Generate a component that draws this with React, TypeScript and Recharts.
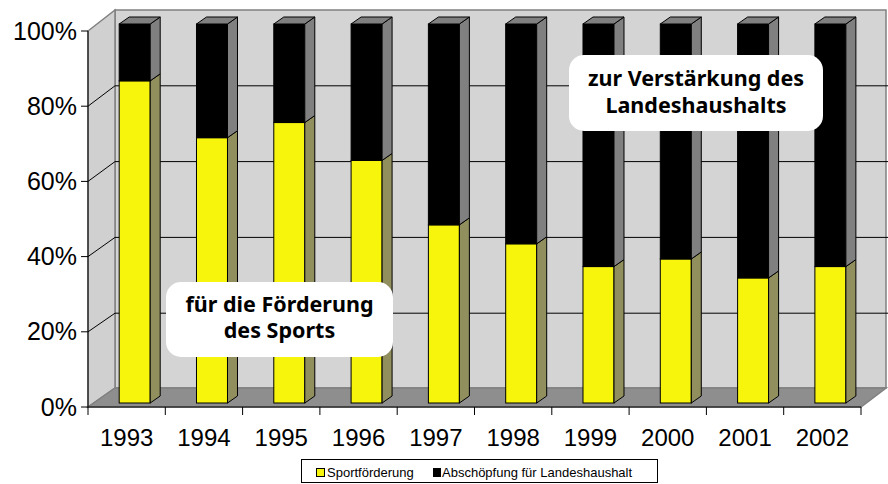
import React from 'react';
import { BarChart, Bar, XAxis, YAxis, CartesianGrid } from 'recharts';

const years = ['1993', '1994', '1995', '1996', '1997', '1998', '1999', '2000', '2001', '2002'];
// share in percent
const sportfoerderung = [85, 70, 74, 64, 47, 42, 36, 38, 33, 36];
const abschoepfung = [15, 30, 26, 36, 53, 58, 64, 62, 67, 64];
const yTicks = [0, 20, 40, 60, 80, 100];

const data = years.map((year, i) => ({
  year,
  sport: sportfoerderung[i],
  absch: abschoepfung[i],
}));

const W = 888;
const H = 484;
const FONT = '"Liberation Sans", Arial, sans-serif';

// plot area = front face plane of the bars
const PLOT_TOP = 24;
const PLOT_BOTTOM = 403;
// front axis plane (slightly in front of / below the bars)
const AXIS_DX = -8;
const AXIS_TOP = 31;
const AXIS_BOTTOM = 407;
const toAxisY = (y: number) =>
  AXIS_TOP + ((y - PLOT_TOP) * (AXIS_BOTTOM - AXIS_TOP)) / (PLOT_BOTTOM - PLOT_TOP);
// back wall plane
const WALL_DX = 19;
const WALL_DY = -14;
// bar depth
const BAR_DX = 10;
const BAR_DY = 7;

const YELLOW = '#f7f50c';
const YELLOW_SIDE = '#918f5e';
const GREY = '#808080';

function make3DBar(front: string, side: string, withTop: boolean) {
  return (props: any) => {
    const { x, y, width, height } = props;
    if (width == null || height == null || height <= 0) return <g />;
    const r = x + width;
    const b = y + height;
    return (
      <g>
        <rect x={x} y={y} width={width} height={height} fill={front} stroke="#000" strokeWidth={1} />
        <polygon
          points={`${r},${y} ${r + BAR_DX},${y - BAR_DY} ${r + BAR_DX},${b - BAR_DY} ${r},${b}`}
          fill={side}
          stroke="#000"
          strokeWidth={1}
          strokeLinejoin="round"
        />
        {withTop && (
          <polygon
            points={`${x},${y} ${x + BAR_DX},${y - BAR_DY} ${r + BAR_DX},${y - BAR_DY} ${r},${y}`}
            fill={GREY}
            stroke="#000"
            strokeWidth={1}
            strokeLinejoin="round"
          />
        )}
      </g>
    );
  };
}

const SportShape = make3DBar(YELLOW, YELLOW_SIDE, false);
const AbschShape = make3DBar('#000000', GREY, true);

const gridLine = (props: any) => {
  const { x1, x2, y1, index } = props;
  const edge =
    props.y != null && props.height != null
      ? Math.abs(y1 - props.y) < 1 || Math.abs(y1 - (props.y + props.height)) < 1
      : false;
  if (edge) return <g key={`grid-${index}`} />;
  const yb = y1 + WALL_DY;
  return (
    <g key={`grid-${index}`}>
      <line x1={x1 + AXIS_DX} y1={toAxisY(y1)} x2={x1 + WALL_DX} y2={yb} stroke="#000" strokeWidth={1} />
      <line x1={x1 + WALL_DX} y1={yb} x2={x2 + WALL_DX} y2={yb} stroke="#000" strokeWidth={1} />
    </g>
  );
};

const YTick = (props: any) => {
  const { x, y, payload } = props;
  const ya = toAxisY(y);
  const xa = x + AXIS_DX;
  return (
    <g>
      <line x1={xa - 7} y1={ya} x2={xa} y2={ya} stroke="#000" strokeWidth={1} />
      <text x={xa - 11} y={ya + 8.5} textAnchor="end" fontSize={25} fontFamily={FONT} fill="#000">
        {`${payload.value}%`}
      </text>
    </g>
  );
};

const XTick = (props: any) => {
  const { x, y, payload, index, visibleTicksCount } = props;
  const half = payload.offset || 0;
  const xa = x + AXIS_DX;
  const ya = toAxisY(y);
  const isLast = index === (visibleTicksCount ?? years.length) - 1;
  return (
    <g>
      <line x1={xa - half} y1={ya} x2={xa - half} y2={ya + 8} stroke="#000" strokeWidth={1} />
      {isLast && <line x1={xa + half} y1={ya} x2={xa + half} y2={ya + 8} stroke="#000" strokeWidth={1} />}
      <text x={xa} y={ya + 39} textAnchor="middle" fontSize={24} fontFamily={FONT} fill="#000">
        {payload.value}
      </text>
    </g>
  );
};

// static 3D frame: left wall, back wall, floor, front axis lines
function Walls() {
  const lx = 88;
  const rx = 861;
  const bx = lx + 27;
  const brx = rx + 25;
  return (
    <svg width={W} height={H} style={{ position: 'absolute', left: 0, top: 0 }}>
      <polygon points={`${bx},10 ${brx},10 ${brx},388 ${bx},388`} fill="#d4d4d4" stroke={GREY} strokeWidth={1.5} />
      <polygon points={`${lx},${AXIS_TOP} ${bx},10 ${bx},388 ${lx},${AXIS_BOTTOM}`} fill="#d0d0d0" stroke={GREY} strokeWidth={1.5} />
      <polygon points={`${lx},${AXIS_BOTTOM} ${bx},388 ${brx},388 ${rx},${AXIS_BOTTOM}`} fill="#8e8e8e" stroke={GREY} strokeWidth={1.5} />
      <line x1={lx} y1={AXIS_TOP} x2={lx} y2={AXIS_BOTTOM} stroke="#000" strokeWidth={1} />
      <line x1={lx} y1={AXIS_BOTTOM} x2={rx} y2={AXIS_BOTTOM} stroke="#000" strokeWidth={1} />
    </svg>
  );
}

function Overlay() {
  const boldFont = '"Noto Sans", "Open Sans", sans-serif';
  return (
    <svg width={W} height={H} style={{ position: 'absolute', left: 0, top: 0, pointerEvents: 'none' }}>
      <rect x={166} y={282} width={227} height={75} rx={15} fill="#fff" />
      <text x={279.5} textAnchor="middle" fontSize={21.5} fontWeight="bold" fontFamily={boldFont} fill="#000">
        <tspan x={279.5} y={312}>für die Förderung</tspan>
        <tspan x={279.5} y={338}>des Sports</tspan>
      </text>
      <rect x={569} y={55} width={254} height={76} rx={15} fill="#fff" />
      <text x={696} textAnchor="middle" fontSize={21.5} fontWeight="bold" fontFamily={boldFont} fill="#000">
        <tspan x={696} y={86}>zur Verstärkung des</tspan>
        <tspan x={696} y={112.5}>Landeshaushalts</tspan>
      </text>

      {/* legend */}
      <rect x={301.5} y={459.5} width={356} height={23} fill="#fff" stroke="#000" strokeWidth={1} />
      <rect x={316.5} y={468.5} width={8} height={8} fill={YELLOW} stroke="#000" strokeWidth={1} />
      <text x={327} y={476.5} fontSize={13} fontFamily={FONT} fill="#000">Sportförderung</text>
      <rect x={433.5} y={468.5} width={7} height={8} fill="#000" stroke="#000" strokeWidth={1} />
      <text x={442} y={476.5} fontSize={13} fontFamily={FONT} fill="#000">Abschöpfung für Landeshaushalt</text>
    </svg>
  );
}

export default function App() {
  return (
    <div style={{ position: 'absolute', left: 0, top: 0, width: W, height: H, background: '#fff' }}>
      <Walls />
      <div style={{ position: 'absolute', left: 0, top: 0 }}>
        <BarChart
          width={W}
          height={H}
          data={data}
          margin={{ top: PLOT_TOP, right: 19, bottom: 0, left: 0 }}
          barCategoryGap="30%"
        >
          <CartesianGrid vertical={false} horizontal={gridLine} stroke="#000" />
          <XAxis
            dataKey="year"
            height={H - PLOT_BOTTOM}
            axisLine={false}
            tickLine={false}
            tickSize={0}
            tickMargin={0}
            interval={0}
            tick={<XTick />}
          />
          <YAxis
            type="number"
            domain={[0, 100]}
            ticks={yTicks}
            width={96}
            axisLine={false}
            tickLine={false}
            tickSize={0}
            tickMargin={0}
            tick={<YTick />}
          />
          <Bar dataKey="sport" stackId="a" fill={YELLOW} shape={SportShape} isAnimationActive={false} />
          <Bar dataKey="absch" stackId="a" fill="#000" shape={AbschShape} isAnimationActive={false} />
        </BarChart>
      </div>
      <Overlay />
    </div>
  );
}
